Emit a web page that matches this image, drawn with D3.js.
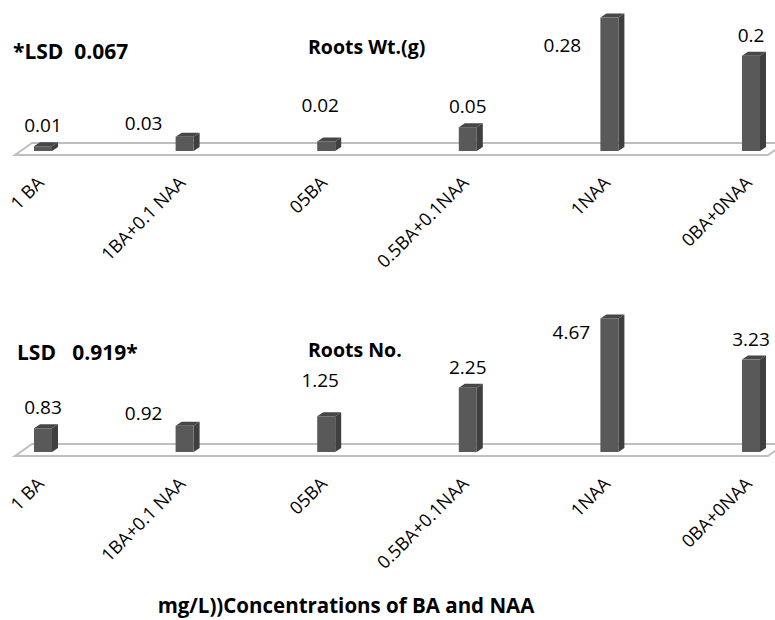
<!DOCTYPE html>
<html>
<head>
<meta charset="utf-8">
<script src="https://cdn.jsdelivr.net/npm/d3@7"></script>
<style>
  html, body { margin: 0; padding: 0; background: #fff; }
  svg text { font-family: "Open Sans", "Liberation Sans", sans-serif; }
</style>
</head>
<body>
<svg id="chart" width="775" height="620"></svg>
<script>
// ---------- data ----------
const categories = ["1 BA", "1BA+0.1 NAA", "05BA", "0.5BA+0.1NAA", "1NAA", "0BA+0NAA"];
const rootsWeight = [0.01, 0.03, 0.02, 0.05, 0.28, 0.2];
const rootsNumber = [0.83, 0.92, 1.25, 2.25, 4.67, 3.23];
const rootsWeightLabels = ["0.01", "0.03", "0.02", "0.05", "0.28", "0.2"];
const rootsNumberLabels = ["0.83", "0.92", "1.25", "2.25", "4.67", "3.23"];
const weightTitle = "Roots Wt.(g)";
const numberTitle = "Roots No.";
const weightLSD = "*LSD\u00a0\u00a00.067";
const numberLSD = "LSD\u00a0\u00a0\u00a00.919*";
const axisTitle = "mg/L))Concentrations of BA and NAA";

// ---------- layout ----------
const svg = d3.select("#chart");
const barW = 18, depthX = 6, depthY = 4;
const plotH = 143;
// manual label nudges (as placed in the original figure)
const weightNudge = [[0, 0], [-41, 7], [-6, -15], [0, 0], [-47, 48], [0, 0]];
const numberNudge = [[0, 0], [-41, 8], [-6, -15], [0, 0], [-38, 35], [0, 0]];

const x = d3.scalePoint().domain(categories).range([43, 751]);

function drawPanel(baseY, values, labels, yMax, nudge, title, lsd, lsdPos, titlePos) {
  const g = svg.append("g");
  const y = d3.scaleLinear().domain([0, yMax]).range([baseY, baseY - plotH]);

  // floor (3D base)
  const fy = baseY + 4, by = baseY - 8;
  g.append("polygon")
    .attr("points", [[15, fy], [768, fy], [785, by], [32, by]].map(p => p.join(",")).join(" "))
    .attr("fill", "#fff").attr("stroke", "#bfbfbf").attr("stroke-width", 2);

  const bars = g.selectAll("g.bar").data(values).enter().append("g").attr("class", "bar");
  // side face
  bars.append("polygon")
    .attr("points", (d, i) => {
      const cx = x(categories[i]), t = y(d);
      return [[cx + barW / 2, t], [cx + barW / 2 + depthX, t - depthY],
              [cx + barW / 2 + depthX, baseY - depthY], [cx + barW / 2, baseY]].map(p => p.join(",")).join(" ");
    })
    .attr("fill", "#3f3f3f");
  // top face
  bars.append("polygon")
    .attr("points", (d, i) => {
      const cx = x(categories[i]), t = y(d);
      return [[cx - barW / 2, t], [cx - barW / 2 + depthX, t - depthY],
              [cx + barW / 2 + depthX, t - depthY], [cx + barW / 2, t]].map(p => p.join(",")).join(" ");
    })
    .attr("fill", "#474747");
  // front face
  bars.append("rect")
    .attr("x", (d, i) => x(categories[i]) - barW / 2)
    .attr("y", d => y(d))
    .attr("width", barW)
    .attr("height", d => baseY - y(d))
    .attr("fill", "#595959");

  // value labels
  g.selectAll("text.val").data(values).enter().append("text")
    .attr("class", "val")
    .attr("x", (d, i) => x(categories[i]) + nudge[i][0])
    .attr("y", (d, i) => y(d) - 14 + nudge[i][1])
    .attr("text-anchor", "middle")
    .attr("font-size", 19)
    .attr("fill", "#000")
    .text((d, i) => labels[i]);

  // category labels
  g.selectAll("text.cat").data(categories).enter().append("text")
    .attr("class", "cat")
    .attr("transform", d => `translate(${x(d) + 2},${baseY + 33}) rotate(-45)`)
    .attr("text-anchor", "end")
    .attr("font-size", 18)
    .attr("fill", "#000")
    .text(d => d);

  // panel title
  g.append("text")
    .attr("x", titlePos[0]).attr("y", titlePos[1])
    .attr("font-size", 19.5).attr("font-weight", "bold")
    .text(title);
  // LSD note
  g.append("text")
    .attr("x", lsdPos[0]).attr("y", lsdPos[1])
    .attr("font-size", 21).attr("font-weight", "bold")
    .text(lsd);
}

drawPanel(151, rootsWeight, rootsWeightLabels, 0.3, weightNudge, weightTitle, weightLSD, [13, 59], [308, 54]);
drawPanel(452, rootsNumber, rootsNumberLabels, 5, numberNudge, numberTitle, numberLSD, [17, 360], [308, 357]);

svg.append("text")
  .attr("x", 346).attr("y", 613)
  .attr("text-anchor", "middle")
  .attr("font-size", 20.5).attr("font-weight", "bold")
  .text(axisTitle);
</script>
</body>
</html>
